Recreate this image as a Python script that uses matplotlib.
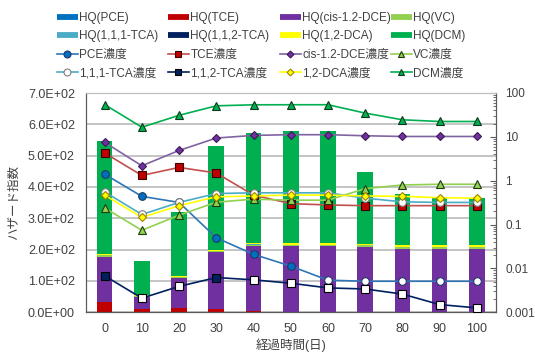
import matplotlib
matplotlib.use("Agg")
import matplotlib.pyplot as plt
from matplotlib.lines import Line2D
import numpy as np

plt.rcParams['font.family'] = ['Liberation Sans', 'Noto Sans CJK JP', 'DejaVu Sans']
plt.rcParams['text.color'] = '#404040'
plt.rcParams['axes.labelcolor'] = '#404040'
plt.rcParams['xtick.color'] = '#404040'
plt.rcParams['ytick.color'] = '#404040'

# elapsed days
days = [0, 10, 20, 30, 40, 50, 60, 70, 80, 90, 100]

# hazard quotients (stacked bars, left axis)
hq_pce = [2, 1, 1, 1, 1, 0.5, 0.5, 0.5, 0.5, 0.5, 0.5]
hq_tce = [30, 9, 12, 8, 3, 2, 2, 2, 2, 2, 2]
hq_cis = [146, 40, 97, 184, 209, 210, 210, 205, 199, 199, 199]
hq_vc = [4, 2, 2, 2, 3, 3, 3, 6, 8, 8, 8]
hq_tca111 = [1, 0.5, 0.5, 0.5, 0.5, 0.5, 0.5, 0.4, 0.3, 0.3, 0.3]
hq_tca112 = [0.5, 0.2, 0.3, 0.5, 0.4, 0.4, 0.4, 0.3, 0.2, 0.2, 0.2]
hq_dca = [4, 2, 2, 3, 4, 4, 4, 4, 5, 5, 5]
hq_dcm = [360, 109, 204, 331, 351, 357, 359, 229, 163, 152, 151]

# concentrations (lines, right log axis)
c_pce = [1.41, 0.44, 0.32, 0.050, 0.021, 0.0113, 0.0054, 0.0051, 0.0051, 0.0051, 0.0051]
c_tce = [4.3, 1.32, 2.01, 1.5, 0.47, 0.30, 0.28, 0.27, 0.27, 0.27, 0.27]
c_cis = [7.5, 2.19, 4.9, 9.4, 10.8, 11.2, 11.2, 10.6, 10.2, 10.2, 10.2]
c_vc = [0.24, 0.074, 0.164, 0.324, 0.38, 0.36, 0.36, 0.66, 0.80, 0.83, 0.83]
c_tca111 = [0.557, 0.17, 0.32, 0.51, 0.53, 0.53, 0.53, 0.40, 0.33, 0.32, 0.32]
c_tca112 = [0.0068, 0.0021, 0.0039, 0.0062, 0.0055, 0.0046, 0.0036, 0.0034, 0.0026, 0.0015, 0.00126]
c_dca = [0.47, 0.146, 0.27, 0.43, 0.45, 0.47, 0.47, 0.45, 0.44, 0.41, 0.40]
c_dcm = [54.5, 16.6, 31, 51, 53.8, 54, 54, 34.8, 24.5, 22.4, 22.4]

# below detection limit -> drawn with open (white) markers
nd_pce = [False, False, False, False, False, False, True, True, True, True, True]
nd_tca112 = [False, True, True, False, True, True, True, True, True, True, True]

bar_series = [
    ('HQ(PCE)', hq_pce, '#0070C0'),
    ('HQ(TCE)', hq_tce, '#C00000'),
    ('HQ(cis-1.2-DCE)', hq_cis, '#7030A0'),
    ('HQ(VC)', hq_vc, '#92D050'),
    ('HQ(1,1,1-TCA)', hq_tca111, '#4BACC6'),
    ('HQ(1,1,2-TCA)', hq_tca112, '#002060'),
    ('HQ(1,2-DCA)', hq_dca, '#FFFF00'),
    ('HQ(DCM)', hq_dcm, '#00B050'),
]

# label, values, line colour, marker, face, edge, size, non-detect flags
line_series = [
    ('PCE濃度', c_pce, '#2E75B6', 'o', '#0070C0', '#1F3864', 5.5, nd_pce),
    ('TCE濃度', c_tce, '#C0504D', 's', '#C00000', '#3A0000', 5.5, None),
    ('cis-1.2-DCE濃度', c_cis, '#8064A2', 'D', '#7030A0', '#3B1A55', 4.0, None),
    ('VC濃度', c_vc, '#92D050', '^', '#92D050', '#1E3A10', 5.5, None),
    ('1,1,1-TCA濃度', c_tca111, '#4BACC6', 'o', 'white', '#7F7F7F', 5.5, None),
    ('1,1,2-TCA濃度', c_tca112, '#002060', 's', '#002060', '#000000', 5.5, nd_tca112),
    ('1,2-DCA濃度', c_dca, '#FFFF00', 'D', '#FFFF00', '#A08000', 4.0, None),
    ('DCM濃度', c_dcm, '#00B050', '^', '#00B050', '#0A3A1A', 5.5, None),
]

fig = plt.figure(figsize=(5.35, 3.52), dpi=100, facecolor='white')
ax = fig.add_axes([86 / 535, 1 - 312.3 / 352, (495.5 - 86) / 535, (312.3 - 93) / 352])
x = np.arange(len(days))

# stacked hazard-quotient bars
bottom = np.zeros(len(days))
bar_handles = []
for label, vals, color in bar_series:
    ax.bar(x, vals, width=0.42, bottom=bottom, color=color, edgecolor='none', zorder=2)
    bottom += np.array(vals)
    bar_handles.append(Line2D([], [], color=color, lw=4.2, solid_capstyle='butt', label=label))

ax.set_xlim(-0.5, len(days) - 0.5)
ax.set_ylim(0, 700)
ax.set_yticks(np.arange(0, 701, 100))
ax.set_yticklabels([f'{v / 100:.1f}E+{2 if v else 0:02d}' for v in range(0, 701, 100)])
ax.set_xticks(x)
ax.set_xticklabels([str(d) for d in days])
ax.tick_params(axis='both', length=0, labelsize=9)
ax.tick_params(axis='y', pad=8)
ax.tick_params(axis='x', pad=8)
ax.yaxis.grid(True, color='#BFBFBF', lw=1.3, zorder=0)
ax.set_axisbelow(True)
for side in ['left', 'bottom', 'right']:
    ax.spines[side].set_color('#595959')
ax.spines['top'].set_color('#BFBFBF')
ax.set_ylabel('ハザード指数', fontsize=9, labelpad=6)
ax.set_xlabel('経過時間(日)', fontsize=9, labelpad=2)

# concentrations on secondary log axis
ax2 = ax.twinx()
ax2.set_yscale('log')
ax2.set_ylim(0.001, 100)
line_handles = []
for label, vals, lc, mk, fc, ec, ms, nd in line_series:
    ax2.plot(x, vals, color=lc, lw=1.2, zorder=3)
    vals = np.array(vals)
    if nd is None:
        ax2.plot(x, vals, ls='none', marker=mk, ms=ms, mfc=fc, mec=ec, mew=0.8, zorder=4)
    else:
        nd = np.array(nd)
        ax2.plot(x[~nd], vals[~nd], ls='none', marker=mk, ms=ms, mfc=fc, mec=ec, mew=0.8, zorder=4)
        ax2.plot(x[nd], vals[nd], ls='none', marker=mk, ms=ms, mfc='white', mec=ec, mew=0.8, zorder=4)
    line_handles.append(Line2D([], [], color=lc, lw=1.2, marker=mk, ms=ms - 0.5,
                               mfc=fc, mec=ec, mew=0.8, label=label))

ax2.set_yticks([0.001, 0.01, 0.1, 1, 10, 100])
ax2.set_yticklabels(['0.001', '0.01', '0.1', '1', '10', '100'])
ax2.tick_params(axis='y', which='major', direction='in', length=4, color='#595959', labelsize=8.5, pad=7)
ax2.tick_params(axis='y', which='minor', direction='in', length=2, color='#595959')
ax2.spines['right'].set_color('#595959')
ax2.spines['left'].set_color('#595959')
ax2.spines['bottom'].set_color('#595959')
ax2.spines['top'].set_color('#BFBFBF')

# legend: four columns placed individually
col_x = [57, 168, 280, 391]
for i, cx in enumerate(col_x):
    handles = [bar_handles[i], bar_handles[i + 4], line_handles[i], line_handles[i + 4]]
    fig.legend(handles=handles, loc='upper left', bbox_to_anchor=(cx / 535, 1 - 12 / 352),
               frameon=False, fontsize=8.5, handlelength=1.75, handletextpad=0.15,
               labelspacing=0.55, borderpad=0, borderaxespad=0)

fig.savefig('out.png', dpi=100, facecolor='white')
